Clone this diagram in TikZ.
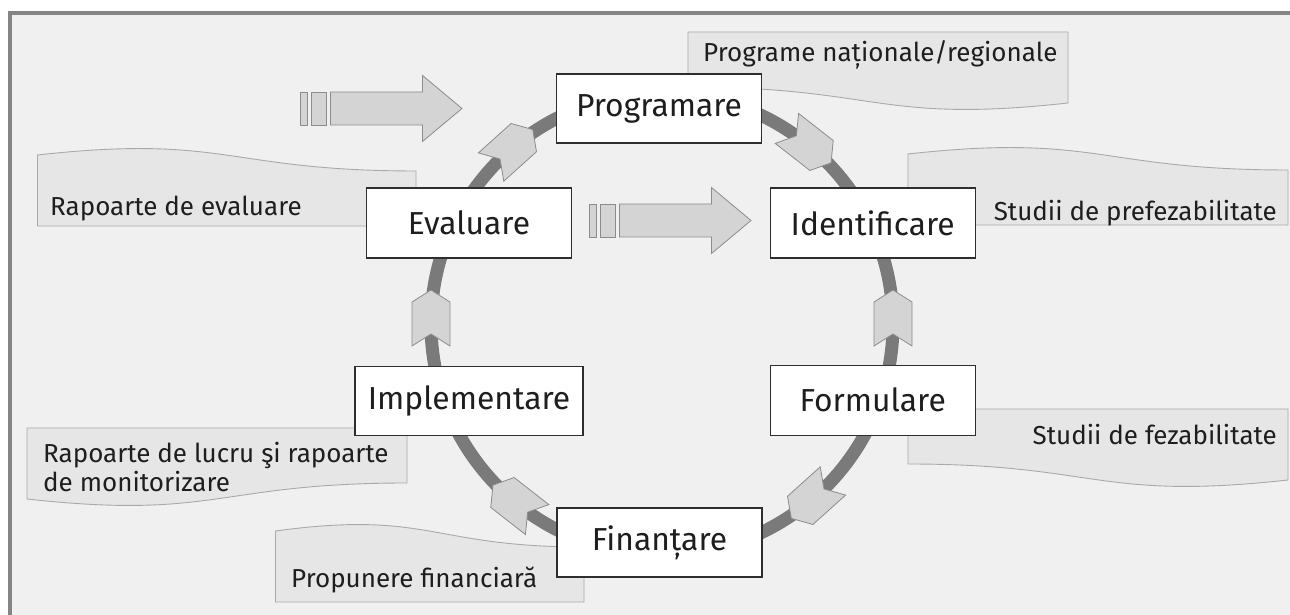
\documentclass[tikz,border=0pt]{standalone}
\usepackage{fontspec}
\setmainfont{Fira Sans}
\usetikzlibrary{positioning}

\definecolor{bggray}{HTML}{F0F0F0}
\definecolor{framegray}{HTML}{858585}
\definecolor{ringgray}{HTML}{7A7A7B}
\definecolor{chevfill}{HTML}{D4D4D5}
\definecolor{chevline}{HTML}{8C8C8C}
\definecolor{docfill}{HTML}{E6E6E7}
\definecolor{docline}{HTML}{A9A9A9}
\definecolor{boxline}{HTML}{2E2E2E}
\definecolor{txt}{HTML}{1E1E1E}

\tikzset{
  stage/.style={draw=boxline, line width=1.2pt, fill=white, minimum width=205pt,
    minimum height=69pt, inner sep=0pt, text=txt, font=\fontsize{31.8}{38}\selectfont},
  note/.style={inner sep=0pt, text=txt, align=left, font=\fontsize{26}{29}\selectfont},
  docshape/.style={fill=docfill, draw=docline, line width=0.9pt},
  chev/.style={fill=chevfill, draw=chevline, line width=0.8pt},
  ring/.style={draw=ringgray, line width=13pt},
}

% wavy note sheet: far end x, near end x, straight edge y, side (1 up, -1 down)
\newcommand{\docsheet}[4]{%
  \pgfmathsetmacro{\xm}{(#1+#2)/2}
  \draw[docshape] (#1,#3) -- (#1,#3+#4*71)
    .. controls (\xm,#3+#4*92) and (\xm,#3+#4*55) .. (#2,#3+#4*55)
    -- (#2,#3) -- cycle;}

% striped block arrow: left x, centre y
\newcommand{\stripearrow}[2]{%
  \draw[chev] (#1,#2-16.5) rectangle (#1+7.5,#2+16.5);
  \draw[chev] (#1+11,#2-16.5) rectangle (#1+26,#2+16.5);
  \draw[chev] (#1+30.5,#2-16.5) -- (#1+122.5,#2-16.5) -- (#1+122.5,#2-33)
    -- (#1+162,#2) -- (#1+122.5,#2+33) -- (#1+122.5,#2+16.5)
    -- (#1+30.5,#2+16.5) -- cycle;}

\begin{document}
\begin{tikzpicture}[x=1pt, y=1pt]
	\useasboundingbox (0,0) rectangle (1290,615);
	% frame
	\fill[bggray] (10,0) rectangle (1290,602);
	\draw[framegray, line width=4pt] (10,0) -- (10,602) -- (1290,602);
	% note sheets
	\docsheet{1068}{688}{583}{-1}
	\docsheet{37.5}{416}{389}{1}
	\docsheet{908}{1288}{390}{1}
	\docsheet{1288}{908}{206}{-1}
	\docsheet{27}{407}{187}{-1}
	\docsheet{275.5}{584}{13}{1}
	\node[note, anchor=base west] (ProgNote) at (703,553) {Programe naționale/regionale} ;
	\node[note, anchor=base west] (EvalNote) at (50,399) {Rapoarte de evaluare} ;
	\node[note, anchor=base east] (IdentNote) at (1277,394) {Studii de prefezabilitate} ;
	\node[note, anchor=base east] (FormNote) at (1277,170) {Studii de fezabilitate} ;
	\node[note, anchor=base west] (ImplNote) at (43,123) {Rapoarte de lucru şi rapoarte\\de monitorizare} ;
	\node[note, anchor=base west] (FinNote) at (291,27) {Propunere financiară} ;
	% cycle ring
	\coordinate (C) at (662,291) ;
	\draw[ring] (C) circle (231pt) ;
	\begin{scope}[shift={(C)}]
		\foreach \a/\r in {132/-90, 52/-90, 0/90, -48/-90, 232/-90, 180/-90}
			\draw[chev, shift={(\a:231)}, rotate=\a+\r]
				(-22,19) -- (22,19) -- (34,0) -- (22,-19) -- (-22,-19) -- (-10,0) -- cycle ;
	\end{scope}
	% stages
	\node[stage] (Prog) at (659,506.5) {Programare} ;
	\node[stage, minimum height=70pt] (Eval) at (469,392) {Evaluare} ;
	\node[stage, minimum height=70pt, right=197.5pt of Eval] (Ident) {Identificare} ;
	\node[stage, minimum height=70pt, below=106pt of Ident] (Form) {Formulare} ;
	\node[stage, minimum width=228pt, below=107pt of Eval] (Impl) {Implementare} ;
	\node[stage] (Fin) at (659.5,72.5) {Finanțare} ;
	% block arrows
	\stripearrow{300}{506.5}
	\stripearrow{589}{394.5}
\end{tikzpicture}
\end{document}
